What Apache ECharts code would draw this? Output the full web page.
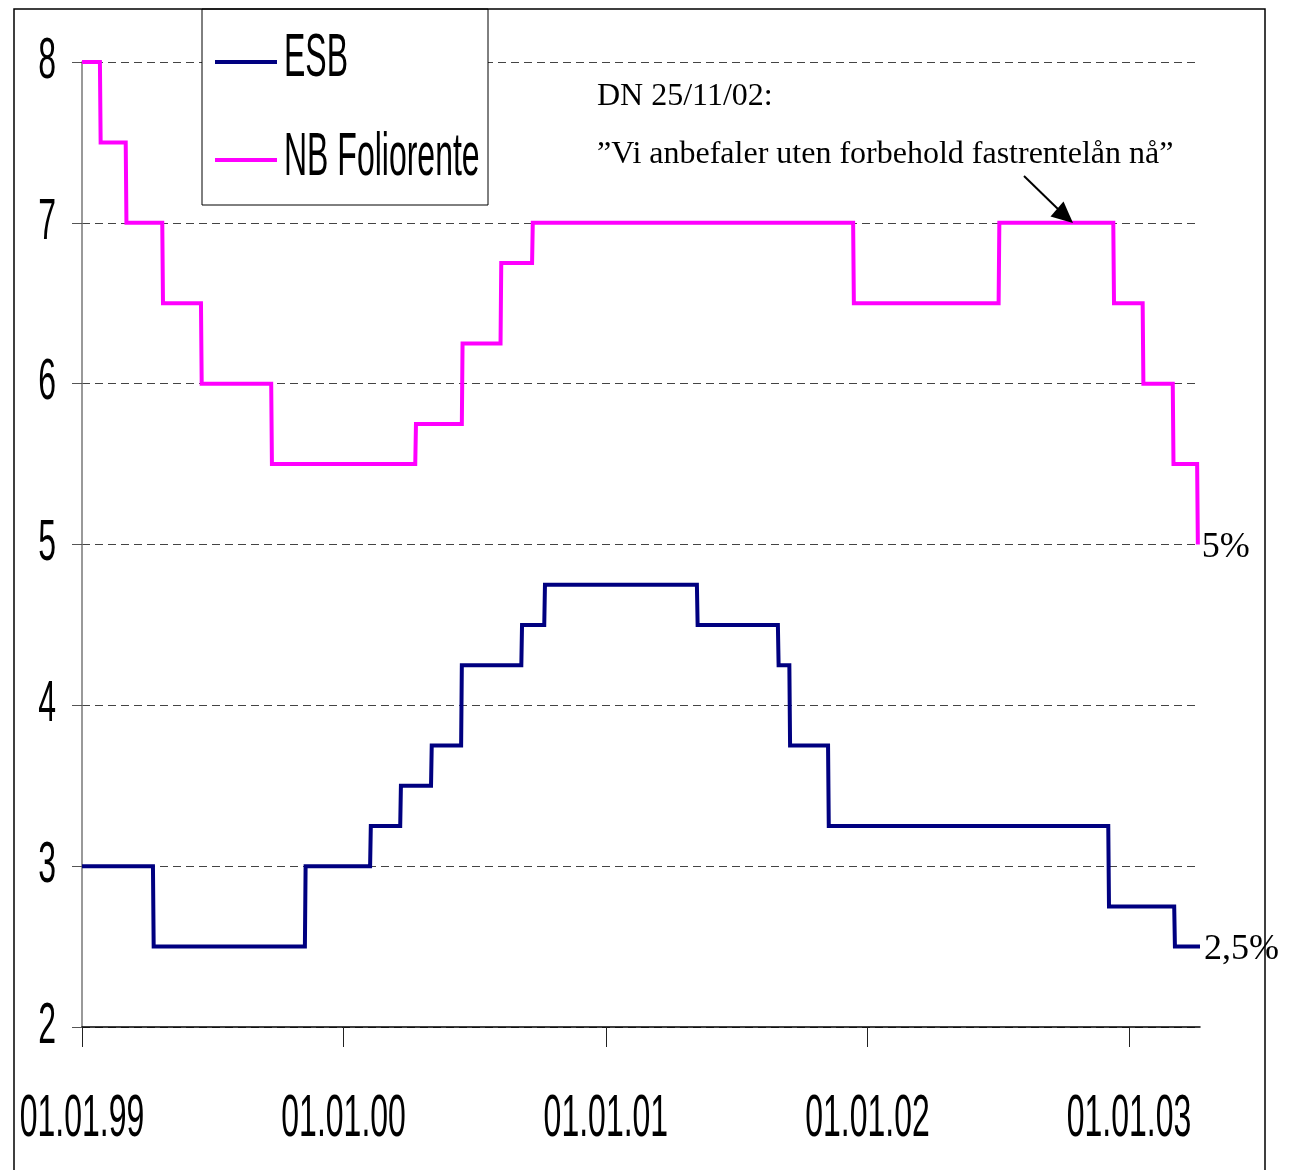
<!DOCTYPE html>
<html>
<head>
<meta charset="utf-8">
<title>ESB og NB Foliorente</title>
<script src="https://cdn.jsdelivr.net/npm/echarts@6/dist/echarts.min.js"></script>
<style>
  html, body { margin: 0; padding: 0; background: #ffffff; }
  #chart { width: 1294px; height: 1170px; }
</style>
</head>
<body>
<div id="chart"></div>
<script>
// Policy rates, 1999 - spring 2003 (percent). Each rate holds until the next change date.
const seriesNames = ['ESB', 'NB Foliorente'];
const startDate = '1999-01-01';
const endDate = '2003-04-10';

const esbStartRate = 3.0;
const esbChangeDates = ['1999-04-11', '1999-11-09', '2000-02-08', '2000-03-21', '2000-05-03',
  '2000-06-14', '2000-09-06', '2000-10-08', '2001-05-09', '2001-08-30', '2001-09-15',
  '2001-11-08', '2002-12-04', '2003-03-06'];
const esbRates = [2.5, 3.0, 3.25, 3.5, 3.75, 4.25, 4.5, 4.75, 4.5, 4.25, 3.75, 3.25, 2.75, 2.5];

const nbStartRate = 8.0;
const nbChangeDates = ['1999-01-27', '1999-03-04', '1999-04-24', '1999-06-17', '1999-09-23',
  '2000-04-11', '2000-06-15', '2000-08-08', '2000-09-21', '2001-12-13', '2002-07-04',
  '2002-12-11', '2003-01-21', '2003-03-04', '2003-04-07'];
const nbRates = [7.5, 7.0, 6.5, 6.0, 5.5, 5.75, 6.25, 6.75, 7.0, 6.5, 7.0, 6.5, 6.0, 5.5, 5.0];

const yTicks = [2, 3, 4, 5, 6, 7, 8];
const xTickDates = ['1999-01-01', '2000-01-01', '2001-01-01', '2002-01-01', '2003-01-01'];
const xTickLabels = ['01.01.99', '01.01.00', '01.01.01', '01.01.02', '01.01.03'];

const noteLines = ['DN 25/11/02:', '\u201DVi anbefaler uten forbehold fastrentelån nå\u201D'];

const colors = { esb: '#000080', nb: '#ff00ff' };

// days since the first date on the axis
const dayIndex = s => (Date.UTC(+s.slice(0, 4), +s.slice(5, 7) - 1, +s.slice(8, 10)) - Date.UTC(1999, 0, 1)) / 864e5;

// turn a list of rate changes into a step polyline
function stepLine(startRate, dates, rates, end) {
  const pts = [[dayIndex(startDate), startRate]];
  let prev = startRate;
  dates.forEach((d, i) => {
    const x = dayIndex(d);
    pts.push([x - 1, prev], [x, rates[i]]);
    prev = rates[i];
  });
  if (end) pts.push([dayIndex(end), prev]);
  return pts;
}

const esbData = stepLine(esbStartRate, esbChangeDates, esbRates, endDate);
const nbData = stepLine(nbStartRate, nbChangeDates, nbRates, null);

const chart = echarts.init(document.getElementById('chart'), null, { renderer: 'canvas' });

const endLabel = {
  show: true,
  distance: 4,
  offset: [0, 3],
  formatter: p => String(p.value[1]).replace('.', ',') + '%',
  fontFamily: '"Liberation Serif", "Times New Roman", serif',
  fontSize: 36,
  color: '#000'
};

chart.setOption({
  animation: false,
  backgroundColor: '#ffffff',
  grid: { left: 82, right: 94, top: 62, bottom: 143, containLabel: false },
  xAxis: {
    type: 'value',
    min: dayIndex(startDate),
    max: dayIndex(endDate),
    axisLine: { show: true, lineStyle: { color: '#000', width: 1.5 } },
    axisTick: {
      show: true, length: 20, inside: false,
      customValues: xTickDates.map(dayIndex),
      lineStyle: { color: '#222', width: 1 }
    },
    axisLabel: { show: false },
    splitLine: { show: false }
  },
  yAxis: {
    type: 'value',
    min: 2, max: 8, interval: 1,
    axisLine: { show: true, lineStyle: { color: '#777', width: 1.5 } },
    axisTick: { show: true, length: 10, inside: false, lineStyle: { color: '#555', width: 1 } },
    axisLabel: { show: false },
    splitLine: { show: true, lineStyle: { color: '#444', width: 1, type: [8, 5] } }
  },
  series: [
    {
      name: seriesNames[0], type: 'line', data: esbData,
      symbol: 'none', showSymbol: false, clip: false, z: 3,
      lineStyle: { color: colors.esb, width: 4, join: 'miter' },
      itemStyle: { color: colors.esb },
      endLabel: endLabel
    },
    {
      name: seriesNames[1], type: 'line', data: nbData,
      symbol: 'none', showSymbol: false, clip: false, z: 3,
      lineStyle: { color: colors.nb, width: 4, join: 'miter' },
      itemStyle: { color: colors.nb },
      endLabel: endLabel
    }
  ]
});

// Tall condensed labels: Arial-metric text stretched vertically
const sansFont = '32px "Liberation Sans", Arial, sans-serif';
const serifFont = '32px "Liberation Serif", "Times New Roman", serif';

function label(text, x, y, align, sy, font) {
  return {
    type: 'text', x: x, y: y, scaleY: sy || 1, z: 30, silent: true,
    style: {
      text: text, font: font || sansFont, fill: '#000',
      textAlign: align, textVerticalAlign: 'middle', align: align, verticalAlign: 'middle'
    }
  };
}

const graphics = [];

// outer frame
graphics.push({
  type: 'rect', z: 25, silent: true,
  shape: { x: 14, y: 9, width: 1251, height: 1200 },
  style: { fill: 'none', stroke: '#000', lineWidth: 1.5 }
});

// y tick labels
yTicks.forEach(v => {
  const py = chart.convertToPixel({ yAxisIndex: 0 }, v);
  graphics.push(label(String(v), 56, py, 'right', 1.78));
});

// x tick labels
xTickDates.forEach((d, i) => {
  const px = chart.convertToPixel({ xAxisIndex: 0 }, dayIndex(d));
  graphics.push(label(xTickLabels[i], px, 1120, 'center', 1.83));
});

// legend box
graphics.push({
  type: 'group', z: 20,
  children: [
    { type: 'rect', z: 20, shape: { x: 202, y: 9, width: 286, height: 196 },
      style: { fill: '#fff', stroke: '#000', lineWidth: 1 } },
    { type: 'line', z: 21, shape: { x1: 215, y1: 62, x2: 277, y2: 62 },
      style: { stroke: colors.esb, lineWidth: 4 } },
    { type: 'line', z: 21, shape: { x1: 215, y1: 160, x2: 277, y2: 160 },
      style: { stroke: colors.nb, lineWidth: 4 } }
  ]
});
graphics.push(label(seriesNames[0], 284, 59, 'left', 1.88));
graphics.push(label(seriesNames[1], 284, 158, 'left', 1.88));

// newspaper quote with arrow
graphics.push(label(noteLines[0], 597, 97, 'left', 1, serifFont));
graphics.push(label(noteLines[1], 597, 155, 'left', 1, serifFont));
graphics.push({
  type: 'line', z: 30, silent: true,
  shape: { x1: 1024, y1: 176, x2: 1060, y2: 211 },
  style: { stroke: '#000', lineWidth: 2 }
});
graphics.push({
  type: 'polygon', z: 30, silent: true,
  shape: { points: [[1073, 223], [1050.5, 216.5], [1063.5, 201.5]] },
  style: { fill: '#000' }
});

chart.setOption({ graphic: graphics });
</script>
</body>
</html>
